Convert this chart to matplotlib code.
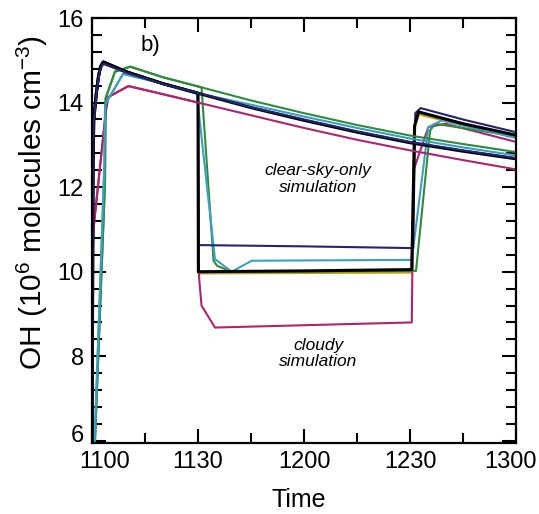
import matplotlib
matplotlib.use("Agg")
import matplotlib.pyplot as plt
import matplotlib.transforms as mtransforms
from matplotlib.ticker import MultipleLocator

plt.rcParams['font.family'] = ['Liberation Sans', 'DejaVu Sans']
plt.rcParams['mathtext.fontset'] = 'custom'
plt.rcParams['mathtext.rm'] = 'Liberation Sans'
plt.rcParams['mathtext.it'] = 'Liberation Sans:italic'
plt.rcParams['mathtext.default'] = 'regular'

# ---- data: minutes after 11:00, OH in 10^6 molecules cm^-3 ----
# spin-up (shared by clear-sky and cloudy runs of each model)
t_rise_black = [0, 0.3, 0.5, 1.2, 1.8, 2.4, 3.2, 10, 20, 30]
oh_rise_black = [5.5, 12.6, 13.6, 14.2, 14.6, 14.85, 14.96, 14.72, 14.45, 14.22]
t_rise_navy = [0, 0.3, 0.5, 1.2, 1.8, 2.4, 3.2, 10, 20, 30]
oh_rise_navy = [5.5, 12.5, 13.55, 14.15, 14.55, 14.8, 14.92, 14.7, 14.44, 14.23]
t_rise_teal = [0.7, 3.5, 3.7, 8.8, 20, 30]
oh_rise_teal = [5.9, 12.5, 13.95, 14.68, 14.45, 14.22]
t_rise_green = [0.8, 3.68, 3.85, 6.5, 10.8, 20, 31]
oh_rise_green = [5.9, 12.1, 14.1, 14.73, 14.85, 14.6, 14.36]
t_rise_magenta = [0, 0.25, 0.4, 4.0, 4.6, 10.3, 20, 30]
oh_rise_magenta = [5.5, 10.5, 11.0, 13.85, 14.13, 14.39, 14.2, 14.0]

# clear-sky-only continuation
t_clear = [45, 60, 75, 90, 105, 120]
oh_clear_black = [13.88, 13.58, 13.3, 13.05, 12.85, 12.67]
oh_clear_navy = [13.89, 13.6, 13.32, 13.07, 12.87, 12.69]
oh_clear_teal = [13.95, 13.67, 13.4, 13.15, 12.94, 12.75]
oh_clear_green = [14.05, 13.75, 13.47, 13.22, 13.02, 12.83]
oh_clear_magenta = [13.7, 13.4, 13.12, 12.87, 12.64, 12.42]

# cloudy continuation
t_cloudy_black = [30.1, 60, 90, 90.5, 91.3, 92.4, 105, 120]
oh_cloudy_black = [10.0, 10.02, 10.05, 10.05, 13.45, 13.78, 13.5, 13.23]
t_cloudy_olive = [30.1, 60, 90, 90.4, 91.2, 92.6, 105, 120]
oh_cloudy_olive = [9.96, 9.97, 9.98, 9.98, 13.4, 13.72, 13.46, 13.2]
t_cloudy_navy = [30.1, 60, 90, 90.9, 91.5, 93, 105, 120]
oh_cloudy_navy = [10.63, 10.6, 10.56, 10.56, 13.75, 13.87, 13.6, 13.3]
t_cloudy_teal = [29.6, 34.8, 39.5, 45.2, 90, 90.5, 95.2, 99, 120]
oh_cloudy_teal = [14.25, 10.3, 10.0, 10.26, 10.28, 10.28, 13.42, 13.58, 13.16]
t_cloudy_green = [34.4, 35.4, 39.5, 90, 91.7, 95.7, 97.1, 120]
oh_cloudy_green = [10.26, 10.14, 10.0, 10.02, 10.02, 13.34, 13.5, 13.2]
t_cloudy_magenta = [30.3, 31.0, 34.8, 90, 90.5, 91.0, 95.2, 100, 120]
oh_cloudy_magenta = [9.87, 9.2, 8.68, 8.8, 8.8, 12.4, 13.42, 13.5, 13.07]

xtick_pos = [0, 30, 60, 90, 120]
xtick_labels = ['1100', '1130', '1200', '1230', '1300']
ytick_pos = [6, 8, 10, 12, 14, 16]

colors = {
    'black': '#000000',
    'navy': '#23236e',
    'teal': '#3a9fc0',
    'green': '#2e8b3c',
    'magenta': '#ad2470',
    'olive': '#c0a000',
}

fig = plt.figure(figsize=(5.39, 5.14), dpi=100)
ax = fig.add_axes([92/539, 1-443/514, (516-92)/539, (443-18)/514])

lw = 1.5
# cloudy runs
ax.plot(t_rise_black + t_cloudy_olive, oh_rise_black + oh_cloudy_olive, color=colors['olive'], lw=lw)
ax.plot(t_rise_magenta + t_cloudy_magenta, oh_rise_magenta + oh_cloudy_magenta, color=colors['magenta'], lw=lw)
ax.plot(t_rise_green + t_cloudy_green, oh_rise_green + oh_cloudy_green, color=colors['green'], lw=lw)
ax.plot(t_rise_teal[:-1] + t_cloudy_teal, oh_rise_teal[:-1] + oh_cloudy_teal, color=colors['teal'], lw=lw)
ax.plot(t_rise_navy + t_cloudy_navy, oh_rise_navy + oh_cloudy_navy, color=colors['navy'], lw=lw)
ax.plot(t_rise_black + t_cloudy_black, oh_rise_black + oh_cloudy_black, color=colors['black'], lw=2.2)
# clear-sky-only runs
ax.plot(t_rise_magenta + t_clear, oh_rise_magenta + oh_clear_magenta, color=colors['magenta'], lw=lw)
ax.plot(t_rise_green + t_clear, oh_rise_green + oh_clear_green, color=colors['green'], lw=lw)
ax.plot(t_rise_teal + t_clear, oh_rise_teal + oh_clear_teal, color=colors['teal'], lw=lw)
ax.plot(t_rise_black + t_clear, oh_rise_black + oh_clear_black, color=colors['black'], lw=2.2)
ax.plot(t_rise_navy + t_clear, oh_rise_navy + oh_clear_navy, color=colors['navy'], lw=lw)

ax.set_xlim(0, 120)
ax.set_ylim(5.95, 16)
ax.set_xticks(xtick_pos)
ax.set_xticklabels(xtick_labels)
ax.set_yticks(ytick_pos)
ax.xaxis.set_minor_locator(MultipleLocator(15))
ax.yaxis.set_minor_locator(MultipleLocator(0.4))
ax.tick_params(which='both', direction='in', top=True, right=True, width=1.5, labelsize=17, pad=6)
ax.tick_params(which='major', length=10)
ax.tick_params(which='minor', length=7)
for s in ax.spines.values():
    s.set_linewidth(1.6)

# shift the end tick labels as in the reference
labels = ax.get_xticklabels()
labels[0].set_transform(labels[0].get_transform() + mtransforms.ScaledTranslation(13/100, 0, fig.dpi_scale_trans))
labels[-1].set_transform(labels[-1].get_transform() + mtransforms.ScaledTranslation(-6/100, 0, fig.dpi_scale_trans))
ylabels = ax.get_yticklabels()
ylabels[0].set_transform(ylabels[0].get_transform() + mtransforms.ScaledTranslation(0, 7/100, fig.dpi_scale_trans))

ax.set_xlabel('Time', fontsize=18)
ax.xaxis.set_label_coords(0.487, -0.105)
ax.set_ylabel('OH (10$^{6}$ molecules cm$^{-3}$)', fontsize=21.5)
ax.yaxis.set_label_coords(-0.10, 0.565)

ax.text(16.4, 15.35, 'b)', fontsize=16, ha='center', va='center')
ax.text(64, 12.2, 'clear-sky-only\nsimulation', fontsize=12.5, style='italic', ha='center', va='center', linespacing=1.15)
ax.text(64, 8.07, 'cloudy\nsimulation', fontsize=12.5, style='italic', ha='center', va='center', linespacing=1.1)

fig.savefig('out.png', dpi=100)
